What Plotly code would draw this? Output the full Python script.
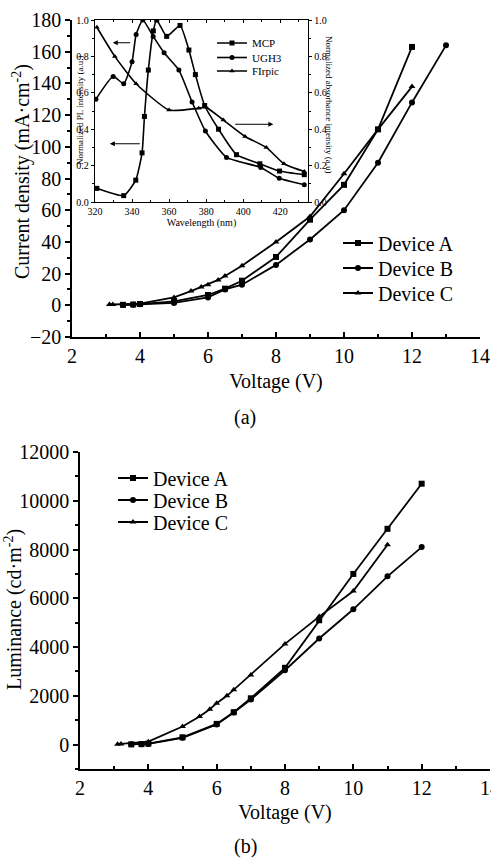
import plotly.graph_objects as go

VIEW_W, VIEW_H = 491, 859
W, H = 500, 872  # figure slightly larger than the window so edge texts get clipped like the reference
FONT = "Liberation Serif"

# ---------------- Panel (a): current density ----------------
a_vA = [3.5, 3.8, 4.0, 5, 6, 6.5, 7, 8, 9, 10, 11, 12]
a_jA = [0.3, 0.5, 0.8, 2.5, 6.5, 10.5, 15.5, 30.5, 54, 76, 111, 163]
a_vB = [3.5, 3.8, 4.0, 5, 6, 6.5, 7, 8, 9, 10, 11, 12, 13]
a_jB = [0.2, 0.4, 0.6, 1.5, 5, 10, 13, 25.5, 41.5, 60, 90, 128, 164]
a_vC = [3.1, 3.2, 4.0, 5, 5.5, 5.8, 6.0, 6.3, 6.5, 7, 8, 9, 10, 11, 12]
a_jC = [0.5, 0.5, 1.0, 5, 9, 11.5, 13, 16, 18.5, 25, 40, 56, 83, 111, 138]

# ---------------- Panel (b): luminance ----------------
b_vA = [3.5, 3.8, 4.0, 5, 6, 6.5, 7, 8, 9, 10, 11, 12]
b_lA = [10, 20, 40, 300, 850, 1330, 1900, 3150, 5100, 7000, 8850, 10700]
b_vB = [3.5, 3.8, 4.0, 5, 6, 6.5, 7, 8, 9, 10, 11, 12]
b_lB = [10, 20, 30, 280, 830, 1320, 1850, 3050, 4350, 5550, 6900, 8100]
b_vC = [3.1, 3.2, 4.0, 5, 5.5, 5.8, 6.0, 6.3, 6.5, 7, 8, 9, 10, 11]
b_lC = [20, 30, 120, 740, 1150, 1450, 1700, 2000, 2250, 2850, 4130, 5250, 6300, 8200]

# ---------------- Inset: spectra ----------------
mcp_wl = [321, 335.5, 342, 345.4, 346.7, 348.8, 351.5, 353.3, 358.7, 365.9, 370.7,
          374.2, 379.2, 386.7, 396.4, 409, 419.6, 433]
mcp_i = [0.075, 0.035, 0.12, 0.27, 0.47, 0.725, 0.94, 1.0, 0.91, 0.97, 0.835,
         0.70, 0.53, 0.40, 0.26, 0.21, 0.17, 0.15]
ugh_wl = [320.5, 329.8, 335.5, 340, 342.2, 345.8, 351.4, 357.3, 365.3, 372.4,
          379.6, 391, 409.5, 419.5, 433]
ugh_i = [0.565, 0.69, 0.65, 0.77, 0.92, 1.0, 0.91, 0.82, 0.725, 0.55,
         0.39, 0.245, 0.19, 0.13, 0.095]
fir_wl = [321, 330.7, 342.2, 360, 376, 380, 389.3, 401, 412.5, 422, 433]
fir_a = [0.96, 0.80, 0.65, 0.505, 0.515, 0.52, 0.45, 0.36, 0.30, 0.21, 0.167]

device_names = ["Device A", "Device B", "Device C"]
inset_names = ["MCP", "UGH3", "FIrpic"]
symbols = ["square", "circle", "triangle-up"]


def px_x(p):
    return p / W


def px_y(p):
    return 1 - p / H


main_font = dict(family=FONT, size=20, color="black")
small_font = dict(family=FONT, size=10, color="black")
tiny_font = dict(family=FONT, size=9, color="black")

fig = go.Figure()

legend_layout = {}
leg_idx = 0


def add_legend(x_px, y_px, font):
    global leg_idx
    leg_idx += 1
    key = "legend" if leg_idx == 1 else f"legend{leg_idx}"
    legend_layout[key] = dict(x=px_x(x_px), y=px_y(y_px), xanchor="left", yanchor="middle",
                              font=font, bgcolor="rgba(0,0,0,0)", borderwidth=0)
    return key


rows_a = [243, 268, 293]
for name, xs, ys, sym, r in zip(device_names, [a_vA, a_vB, a_vC], [a_jA, a_jB, a_jC], symbols, rows_a):
    lg = add_legend(338, r, main_font)
    fig.add_trace(go.Scatter(x=xs, y=ys, name=name, mode="lines+markers",
                             line=dict(color="black", width=1.8),
                             marker=dict(symbol=sym, size=6, color="black"),
                             xaxis="x", yaxis="y", legend=lg))

rows_b = [478, 500, 522]
for name, xs, ys, sym, r in zip(device_names, [b_vA, b_vB, b_vC], [b_lA, b_lB, b_lC], symbols, rows_b):
    lg = add_legend(113, r, main_font)
    fig.add_trace(go.Scatter(x=xs, y=ys, name=name, mode="lines+markers",
                             line=dict(color="black", width=1.8),
                             marker=dict(symbol=sym, size=6, color="black"),
                             xaxis="x2", yaxis="y2", legend=lg))

rows_i = [43, 57.5, 71]
for name, xs, ys, sym, ya, r in zip(inset_names, [mcp_wl, ugh_wl, fir_wl],
                                    [mcp_i, ugh_i, fir_a], symbols, ["y3", "y3", "y4"], rows_i):
    lg = add_legend(212, r, dict(family=FONT, size=11, color="black"))
    fig.add_trace(go.Scatter(x=xs, y=ys, name=name, mode="lines+markers",
                             line=dict(color="black", width=1.6, shape="spline", smoothing=0.5),
                             marker=dict(symbol=sym, size=5, color="black"),
                             xaxis="x3", yaxis=ya, legend=lg))

common = dict(showgrid=False, zeroline=False, showline=True, linecolor="black",
              linewidth=1.5, tickcolor="black", tickfont=main_font, automargin=False)
inset_common = dict(showgrid=False, zeroline=False, showline=True, linecolor="black",
                    linewidth=1.3, tickcolor="black", tickfont=small_font, automargin=False)

fig.update_layout(
    width=W, height=H, margin=dict(l=0, r=0, t=0, b=0, autoexpand=False),
    paper_bgcolor="white", plot_bgcolor="rgba(0,0,0,0)",
    font=dict(family=FONT, color="black"),
    xaxis=dict(domain=[px_x(72), px_x(480)], range=[2, 14], anchor="y",
               ticks="inside", ticklen=5, tickwidth=1.5, dtick=2,
               minor=dict(ticks="inside", ticklen=3, dtick=1, tickcolor="black"),
               title=dict(text="Voltage (V)", font=main_font, standoff=8), **common),
    yaxis=dict(domain=[px_y(337), px_y(20)], range=[-20, 180], anchor="x",
               ticks="outside", ticklen=5, tickwidth=1.5, dtick=20,
               minor=dict(ticks="outside", ticklen=3, dtick=10, tickcolor="black"),
               **common),
    xaxis2=dict(domain=[px_x(80), px_x(490)], range=[2, 14], anchor="y2",
                ticks="inside", ticklen=5, tickwidth=1.5, dtick=2,
                minor=dict(ticks="inside", ticklen=3, dtick=1, tickcolor="black"),
                title=dict(text="Voltage (V)", font=main_font, standoff=7), **common),
    yaxis2=dict(domain=[px_y(769), px_y(452)], range=[-1000, 12000], anchor="x2",
                ticks="outside", ticklen=5, tickwidth=1.5, dtick=2000, tickformat="d",
                minor=dict(ticks="outside", ticklen=3, dtick=1000, tickcolor="black"),
                **common),
    xaxis3=dict(domain=[px_x(95), px_x(308)], range=[320, 435], anchor="y3",
                mirror="ticks", ticks="inside", ticklen=3,
                dtick=20, minor=dict(ticks="inside", ticklen=2, dtick=10, tickcolor="black"),
                title=dict(text="Wavelength (nm)", font=small_font, standoff=1), **inset_common),
    yaxis3=dict(domain=[px_y(202), px_y(20)], range=[0, 1.0], anchor="x3",
                ticks="outside", ticklen=3, dtick=0.2, tickformat=".1f",
                minor=dict(ticks="outside", ticklen=2, dtick=0.1, tickcolor="black"),
                **inset_common),
    yaxis4=dict(overlaying="y3", side="right", range=[0, 1.0], anchor="x3",
                ticks="outside", ticklen=3, dtick=0.2, tickformat=".1f",
                minor=dict(ticks="outside", ticklen=2, dtick=0.1, tickcolor="black"),
                **inset_common),
    showlegend=True,
    **legend_layout,
)

# axis titles placed as rotated annotations
fig.add_annotation(x=px_x(21), y=px_y(172), xref="paper", yref="paper",
                   text="Current density (mA·cm<sup>-2</sup>)", textangle=-90,
                   showarrow=False, font=main_font, xanchor="center", yanchor="middle")
fig.add_annotation(x=px_x(13), y=px_y(610), xref="paper", yref="paper",
                   text="Luminance (cd·m<sup>-2</sup>)", textangle=-90,
                   showarrow=False, font=main_font, xanchor="center", yanchor="middle")
fig.add_annotation(x=px_x(80), y=px_y(111), xref="paper", yref="paper",
                   text="Normalized PL intensity (a.u.)", textangle=-90,
                   showarrow=False, font=tiny_font, xanchor="center", yanchor="middle")
fig.add_annotation(x=px_x(329), y=px_y(104), xref="paper", yref="paper",
                   text="Normalized absorbance intensity (a.u)", textangle=90,
                   showarrow=False, font=tiny_font, xanchor="center", yanchor="middle")

arrow_kw = dict(xref="x3", yref="y3", axref="x3", ayref="y3", text="", showarrow=True,
                arrowhead=2, arrowsize=1, arrowwidth=1, arrowcolor="black")
fig.add_annotation(x=329.6, y=0.875, ax=339.8, ay=0.875, **arrow_kw)
fig.add_annotation(x=328, y=0.32, ax=345, ay=0.32, **arrow_kw)
fig.add_annotation(x=416.3, y=0.427, ax=394.9, ay=0.427, **arrow_kw)

fig.add_annotation(x=px_x(245), y=px_y(418), xref="paper", yref="paper", text="(a)",
                   showarrow=False, font=main_font, xanchor="center", yanchor="middle")
fig.add_annotation(x=px_x(245), y=px_y(846), xref="paper", yref="paper", text="(b)",
                   showarrow=False, font=main_font, xanchor="center", yanchor="middle")

fig.write_html(
    "out.html",
    config={"displayModeBar": False},
    post_script="document.body.style.margin='0';document.body.style.overflow='hidden';",
)
